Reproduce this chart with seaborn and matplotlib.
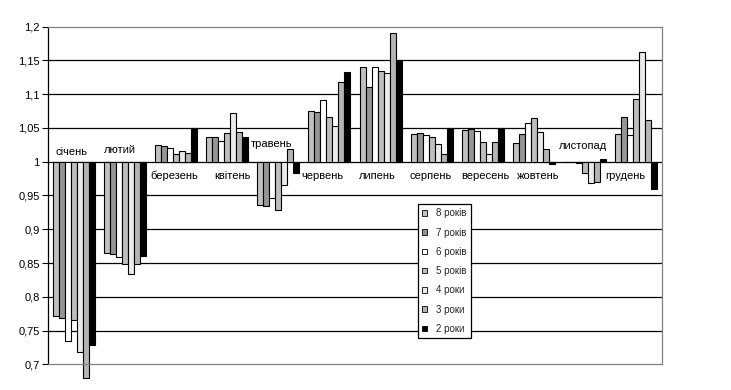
import matplotlib
matplotlib.use("Agg")
import matplotlib.pyplot as plt
import matplotlib.ticker as mticker
from matplotlib.patches import Patch
import seaborn as sns
import pandas as pd

months = ["січень", "лютий", "березень", "квітень", "травень", "червень",
          "липень", "серпень", "вересень", "жовтень", "листопад", "грудень"]
series = ["8 років", "7 років", "6 років", "5 років", "4 роки", "3 роки", "2 роки"]

v8 = [0.771, 0.865, 1.025, 1.037, 0.936, 1.075, 1.141, 1.041, 1.047, 1.028, 1.000, 1.041]
v7 = [0.769, 0.864, 1.024, 1.036, 0.934, 1.074, 1.110, 1.043, 1.049, 1.041, 1.000, 1.066]
v6 = [0.735, 0.859, 1.021, 1.031, 0.946, 1.092, 1.140, 1.040, 1.046, 1.057, 0.998, 1.040]
v5 = [0.765, 0.849, 1.012, 1.043, 0.928, 1.066, 1.135, 1.037, 1.029, 1.065, 0.984, 1.093]
v4 = [0.718, 0.834, 1.016, 1.072, 0.966, 1.053, 1.131, 1.027, 1.012, 1.044, 0.969, 1.163]
v3 = [0.680, 0.849, 1.013, 1.044, 1.019, 1.118, 1.191, 1.012, 1.029, 1.019, 0.970, 1.062]
v2 = [0.729, 0.861, 1.050, 1.037, 0.983, 1.133, 1.150, 1.050, 1.050, 0.996, 1.004, 0.960]

colors = ["#C0C0C0", "#969696", "#FFFFFF", "#BEBEBE", "#EAEAEA", "#B4B4B4", "#000000"]
yticks = [0.7, 0.75, 0.8, 0.85, 0.9, 0.95, 1.0, 1.05, 1.1, 1.15, 1.2]

# label placement (layout only): horizontal nudge in category units, vertical in axis units
label_dx = [-0.05, -0.09, -0.04, 0.1, -0.12, -0.13, -0.07, -0.02, 0.04, 0.08, -0.04, -0.22]
label_dy = [0.015, 0.018, -0.021, -0.021, 0.027, -0.021, -0.021, -0.021, -0.021, -0.021, 0.024, -0.021]

all_vals = [v8, v7, v6, v5, v4, v3, v2]
rows = []
for s, vals in zip(series, all_vals):
    for m, v in zip(months, vals):
        rows.append({"month": m, "series": s, "value": v, "dev": v - 1.0})
df = pd.DataFrame(rows)

sns.set_theme(style="white")
plt.rcParams["font.family"] = ["Liberation Sans", "DejaVu Sans"]

fig = plt.figure(figsize=(7.31, 3.90), dpi=100)
ax = fig.add_axes([48 / 731, 1 - 364.3 / 390, 614 / 731, 337.6 / 390])

sns.barplot(data=df, x="month", y="dev", hue="series", order=months,
            hue_order=series, palette=colors, width=0.82, bottom=1.0,
            edgecolor="black", linewidth=0.8, saturation=1, ax=ax,
            errorbar=None, legend=False)

for p in ax.patches:
    p.set_clip_on(False)

ax.set_ylim(0.7, 1.2)
ax.set_xlim(-0.5, len(months) - 0.5)
ax.set_yticks(yticks)
ax.yaxis.set_major_formatter(mticker.FuncFormatter(
    lambda v, pos: f"{round(v, 3):g}".replace(".", ",")))
ax.tick_params(axis="y", which="major", left=True, length=4, width=0.8,
               color="black", labelsize=8, pad=2, labelcolor="black")
ax.set_xticks([])
ax.set_xlabel("")
ax.set_ylabel("")
for t in yticks[1:-1]:
    ax.axhline(t, color="black", linewidth=0.9, zorder=0.5)

ax.spines["left"].set_color("black")
ax.spines["left"].set_linewidth(0.9)
for side in ["top", "right", "bottom"]:
    ax.spines[side].set_color("#808080")
    ax.spines[side].set_linewidth(0.9)

# month labels next to the baseline 1
for i, m in enumerate(months):
    ax.text(i + label_dx[i], 1.0 + label_dy[i], m, ha="center", va="center",
            fontsize=8, color="black")

handles = [Patch(facecolor=c, edgecolor="black", linewidth=0.6, label=s)
           for c, s in zip(colors, series)]
leg = ax.legend(handles=handles, loc="upper left",
                bbox_to_anchor=(418 / 731, 1 - 204 / 390),
                bbox_transform=fig.transFigure, fontsize=7, frameon=True,
                fancybox=False, edgecolor="black", framealpha=1,
                handlelength=0.5, handleheight=0.5, handletextpad=0.9,
                labelspacing=0.95, borderpad=0.45, borderaxespad=0)
leg.get_frame().set_linewidth(0.9)

fig.savefig("out.png", dpi=100)
